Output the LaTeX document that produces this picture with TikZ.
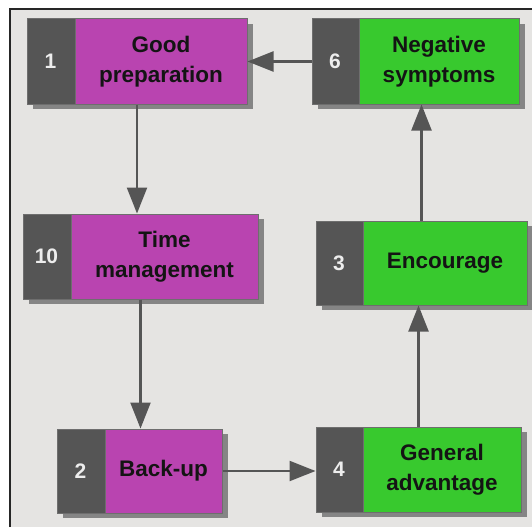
\documentclass[tikz,border=0pt]{standalone}
\usepackage{fontspec}
\setmainfont{Liberation Sans}
\usetikzlibrary{arrows.meta,shadows}

\definecolor{bgpanel}{HTML}{E5E4E2}
\definecolor{tabdark}{HTML}{555555}
\definecolor{magentafill}{HTML}{B944B0}
\definecolor{greenfill}{HTML}{38C92E}
\definecolor{edgegray}{HTML}{6E6E6E}
\definecolor{shadowgray}{HTML}{858585}
\definecolor{arrowgray}{HTML}{555555}
\definecolor{numwhite}{HTML}{EDEDED}

\tikzset{
  card/.style={draw=edgegray, line width=1pt, fill=tabdark, inner sep=0pt,
    minimum height=85pt,
    drop shadow={shadow xshift=6pt, shadow yshift=-5pt, fill=shadowgray, opacity=1}},
  cardtext/.style={draw=edgegray, line width=1pt, inner sep=0pt, minimum height=85pt,
    anchor=east, align=center, text=black!92,
    font=\bfseries\fontsize{22.5}{30}\selectfont},
  numtext/.style={inner sep=0pt, text=numwhite, font=\bfseries\fontsize{21}{25}\selectfont},
  flow/.style={draw=arrowgray, line width=2.2pt, -{Triangle[length=26pt,width=20pt]}},
}

\begin{document}
\begin{tikzpicture}[x=1pt,y=-1pt]
  \useasboundingbox (0,0) rectangle (532,527);
  % panel and its frame
  \fill[white] (0,0) rectangle (532,527);
  \fill[bgpanel] (10,9) rectangle (532,527);
  \draw[black!85, line width=1.3pt] (10,527) -- (10,9) -- (532,9);

  % cards: dark numbered tab on the left, coloured label on the right
  \node[card, minimum width=220pt] (b1) at (137,61.5) {};
  \node[cardtext, fill=magentafill, minimum width=172pt] (t1) at (b1.east) {Good\\preparation};
  \node[numtext] (n1) at ([xshift=24pt]b1.west) {1};

  \node[card, minimum width=207pt] (b6) at (415.5,61.5) {};
  \node[cardtext, fill=greenfill, minimum width=160pt] (t6) at (b6.east) {Negative\\symptoms};
  \node[numtext] (n6) at ([xshift=23.5pt]b6.west) {6};

  \node[card, minimum width=235pt] (b10) at (140.5,256.5) {};
  \node[cardtext, fill=magentafill, minimum width=187pt] (t10) at (b10.east) {Time\\management};
  \node[numtext] (n10) at ([xshift=24pt]b10.west) {10};

  \node[card, minimum width=211pt, minimum height=84pt] (b3) at (421.5,263) {};
  \node[cardtext, fill=greenfill, minimum width=164pt, minimum height=84pt] (t3) at (b3.east) {Encourage};
  \node[numtext] (n3) at ([xshift=23.5pt]b3.west) {3};

  \node[card, minimum width=165pt, minimum height=84pt] (b2) at (139.5,471) {};
  \node[cardtext, fill=magentafill, minimum width=117pt, minimum height=84pt] (t2) at (b2.east) {Back-up};
  \node[numtext] (n2) at ([xshift=24pt]b2.west) {2};

  \node[card, minimum width=205pt] (b4) at (418.5,469.5) {};
  \node[cardtext, fill=greenfill, minimum width=158pt] (t4) at (b4.east) {General\\advantage};
  \node[numtext] (n4) at ([xshift=23.5pt]b4.west) {4};

  % connectors
  \draw[flow] (b6.west) -- (b6.west -| b1.east);
  \draw[flow] (b1.south) -- (b1.south |- b10.north);
  \draw[flow] (b10.south) -- (b10.south |- b2.north);
  \draw[flow] (b2.east) -- (b2.east -| b4.west);
  \draw[flow] (b4.north) -- (b4.north |- b3.south);
  \draw[flow] (b3.north) -- (b3.north |- b6.south);
\end{tikzpicture}
\end{document}
